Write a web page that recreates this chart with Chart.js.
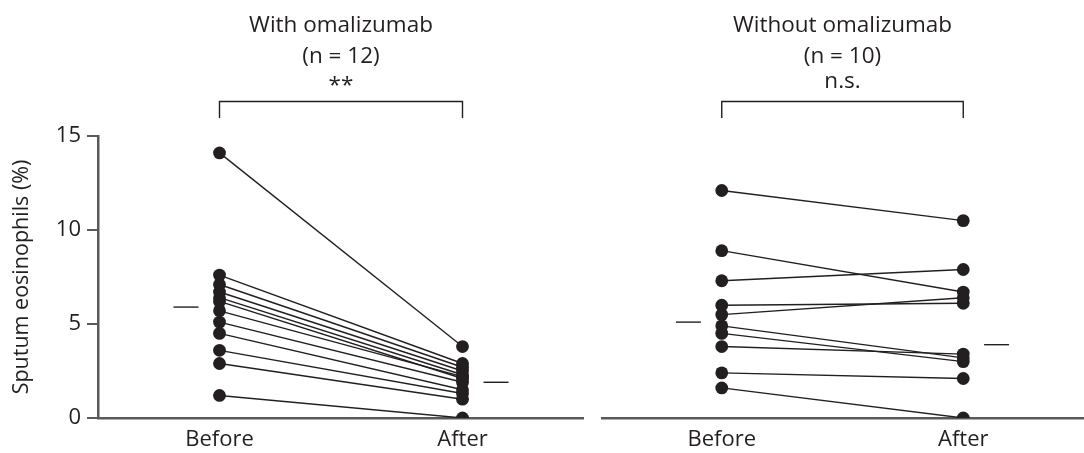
<!DOCTYPE html>
<html>
<head>
<meta charset="utf-8">
<script src="https://cdn.jsdelivr.net/npm/chart.js@4.4.1/dist/chart.umd.min.js"></script>
<style>
  html, body { margin: 0; padding: 0; background: #fff; }
  #wrap { position: relative; width: 1084px; height: 453px; overflow: hidden; }
  .panel { position: absolute; top: 0; height: 453px; }
  #left { left: 0; width: 584px; }
  #right { left: 601px; width: 483px; }
</style>
</head>
<body>
<div id="wrap">
  <div class="panel" id="left"><canvas id="cLeft"></canvas></div>
  <div class="panel" id="right"><canvas id="cRight"></canvas></div>
</div>
<script>
// Sputum eosinophils (%) before and after, per patient
const timepoints = ['Before', 'After'];
const yTicks = [0, 5, 10, 15];

const withBefore = [14.1, 7.6, 7.1, 6.7, 6.4, 6.2, 5.7, 5.1, 4.5, 3.6, 2.9, 1.2];
const withAfter  = [3.8, 2.9, 2.7, 2.5, 2.3, 2.1, 2.2, 1.9, 1.5, 1.3, 1.0, 0.0];
const withCentre = [5.9, 1.9];

const withoutBefore = [12.1, 8.9, 7.3, 6.0, 5.5, 4.9, 4.5, 3.8, 2.4, 1.6];
const withoutAfter  = [10.5, 6.7, 7.9, 6.1, 6.4, 3.2, 3.0, 3.4, 2.1, 0.0];
const withoutCentre = [5.1, 3.9];

const groupTitles = ['With omalizumab', 'Without omalizumab'];
const groupSizes = ['(n = 12)', '(n = 10)'];
const groupTests = ['**', 'n.s.'];

const INK = '#231f20';
const AXIS = '#5a5a5a';
const FONT = "'Open Sans', 'Noto Sans', sans-serif";
const CENTRE_OFFSET = 0.138;

function pairDatasets(before, after) {
  return before.map((b, i) => ({
    data: [{ x: 0, y: b }, { x: 1, y: after[i] }],
    showLine: true,
    borderColor: INK,
    borderWidth: 1.4,
    backgroundColor: INK,
    pointRadius: 6.4,
    pointBorderWidth: 0,
    pointHoverRadius: 6.4
  }));
}

function centreDataset(centre) {
  return {
    data: [{ x: -CENTRE_OFFSET, y: centre[0] }, { x: 1 + CENTRE_OFFSET, y: centre[1] }],
    showLine: false,
    pointStyle: 'line',
    pointRadius: 12.5,
    pointHoverRadius: 12.5,
    borderColor: INK,
    borderWidth: 1.4
  };
}

// Group heading and significance bracket above each panel
const headingPlugin = {
  id: 'heading',
  afterDraw(chart, args, opts) {
    const { ctx } = chart;
    const xs = chart.scales.x;
    const x0 = xs.getPixelForValue(0);
    const x1 = xs.getPixelForValue(1);
    const mid = (x0 + x1) / 2;
    ctx.save();
    ctx.fillStyle = INK;
    ctx.textAlign = 'center';
    ctx.textBaseline = 'alphabetic';
    ctx.font = `22.5px ${FONT}`;
    ctx.fillText(opts.title, mid, 31.5);
    ctx.fillText(opts.size, mid, 63);
    ctx.fillText(opts.test, mid, opts.test === '**' ? 92 : 88);
    ctx.strokeStyle = INK;
    ctx.lineWidth = 1.4;
    ctx.beginPath();
    ctx.moveTo(x0, 118);
    ctx.lineTo(x0, 101.5);
    ctx.lineTo(x1, 101.5);
    ctx.lineTo(x1, 118);
    ctx.stroke();
    ctx.restore();
  }
};

function buildChart(id, before, after, centre, idx, showY) {
  const yScale = {
    display: showY,
    min: 0,
    max: 15,
    afterBuildTicks(scale) { scale.ticks = yTicks.map(v => ({ value: v })); },
    ticks: {
      color: INK,
      font: { family: FONT, size: 22 },
      padding: 6
    },
    grid: { drawOnChartArea: false, drawTicks: true, tickLength: 11, color: AXIS, lineWidth: 2 },
    border: { display: true, color: AXIS, width: 2.5 },
    title: {
      display: true,
      text: 'Sputum eosinophils (%)',
      color: INK,
      font: { family: FONT, size: 21.5 },
      padding: { top: 9, bottom: 0 }
    }
  };
  if (showY) yScale.afterFit = (scale) => { scale.width = 98; };

  return new Chart(document.getElementById(id), {
    type: 'scatter',
    data: { datasets: [...pairDatasets(before, after), centreDataset(centre)] },
    options: {
      responsive: true,
      maintainAspectRatio: false,
      animation: false,
      layout: { autoPadding: false, padding: { top: 136, left: 0, right: 0, bottom: 0 } },
      plugins: {
        legend: { display: false },
        tooltip: { enabled: false },
        heading: { title: groupTitles[idx], size: groupSizes[idx], test: groupTests[idx] }
      },
      scales: {
        x: {
          type: 'linear',
          min: -0.5,
          max: 1.5,
          afterBuildTicks(scale) { scale.ticks = timepoints.map((_, i) => ({ value: i })); },
          afterFit(scale) { scale.height = 35; },
          ticks: {
            callback: (v) => timepoints[v],
            color: INK,
            font: { family: FONT, size: 22 },
            padding: 9,
            maxRotation: 0,
            autoSkip: false
          },
          grid: { display: false, drawTicks: false },
          border: { display: true, color: AXIS, width: 2.5 }
        },
        y: yScale
      }
    },
    plugins: [headingPlugin]
  });
}

buildChart('cLeft', withBefore, withAfter, withCentre, 0, true);
buildChart('cRight', withoutBefore, withoutAfter, withoutCentre, 1, false);
</script>
</body>
</html>
